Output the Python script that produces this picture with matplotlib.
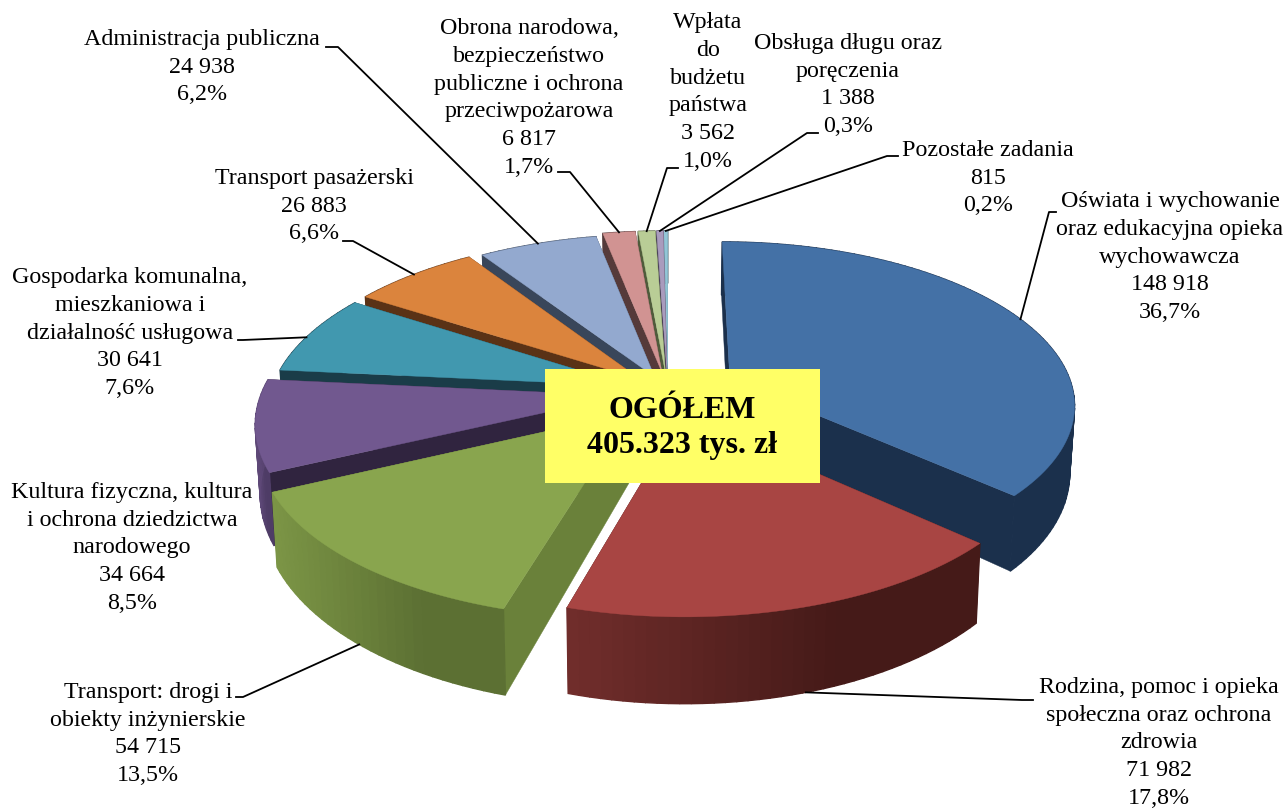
import numpy as np
import matplotlib
matplotlib.use("Agg")
import matplotlib.pyplot as plt
from matplotlib.patches import Polygon, Rectangle

categories = ["Oświata i wychowanie\noraz edukacyjna opieka\nwychowawcza",
              "Rodzina, pomoc i opieka\nspołeczna oraz ochrona\nzdrowia",
              "Transport: drogi i\nobiekty inżynierskie",
              "Kultura fizyczna, kultura\ni ochrona dziedzictwa\nnarodowego",
              "Gospodarka komunalna,\nmieszkaniowa i\ndziałalność usługowa",
              "Transport pasażerski",
              "Administracja publiczna",
              "Obrona narodowa,\nbezpieczeństwo\npubliczne i ochrona\nprzeciwpożarowa",
              "Wpłata\ndo\nbudżetu\npaństwa",
              "Obsługa długu oraz\nporęczenia",
              "Pozostałe zadania"]
values = [148918, 71982, 54715, 34664, 30641, 26883, 24938, 6817, 3562, 1388, 815]
value_labels = ["148 918", "71 982", "54 715", "34 664", "30 641", "26 883",
                "24 938", "6 817", "3 562", "1 388", "815"]
percent_labels = ["36,7%", "17,8%", "13,5%", "8,5%", "7,6%", "6,6%",
                  "6,2%", "1,7%", "1,0%", "0,3%", "0,2%"]

top_colors = ["#4471A6", "#A84543", "#89A54E", "#71588F", "#4198AF", "#DB843D",
              "#93A9CF", "#D19392", "#B9CD96", "#A99BBD", "#92C5D6"]
wall_left = ["#1B304C", "#722E2C", "#7C9646", "#5E4878", "#1A3C48", "#5A3216",
             "#39465A", "#553A3A", "#4F5B3B", "#4A4258", "#3F5A64"]
wall_right = ["#1B304C", "#451A18", "#5C7033", "#4E3C66", "#1A3C48", "#5A3216",
              "#39465A", "#553A3A", "#4F5B3B", "#4A4258", "#3F5A64"]
face_colors = ["#1B304C", "#4A1C1A", "#6A813A", "#30243F", "#1A3C48", "#5A3216",
               "#39465A", "#553A3A", "#4F5B3B", "#4A4258", "#3F5A64"]
explode = [0.19, 0.14, 0.16, 0.13, 0.11, 0.11, 0.10, 0.12, 0.12, 0.12, 0.12]
radius = [0.955, 0.98, 1, 1, 1, 1, 1, 1, 1, 1, 1]

cx, cy = 668, 392
A, B, H, k = 360, 168, 66, 0.15


def project(th, r, e_mid, e, z=0.0):
    x_w = r * np.sin(th) + e * np.sin(e_mid)
    y_w = r * np.cos(th) + e * np.cos(e_mid)
    s = 1 / (1 + k * y_w)
    x = A * x_w * s
    y = -B * y_w * s + z * H * s ** 1.5
    return cx + x * (1 - 0.012 * z), cy + y


def mix(c1, c2, t):
    a = np.array(matplotlib.colors.to_rgb(c1))
    b = np.array(matplotlib.colors.to_rgb(c2))
    return tuple(a + (b - a) * t)


fig = plt.figure(figsize=(12.85, 8.09), dpi=100)
ax = fig.add_axes([0, 0, 1, 1])
ax.set_xlim(0, 1285)
ax.set_ylim(809, 0)
ax.axis("off")

fractions = np.array(values) / sum(values)
starts = 2 * np.pi * np.concatenate([[0], np.cumsum(fractions)[:-1]])
ends = starts + 2 * np.pi * fractions
mids = (starts + ends) / 2

order = np.argsort(-np.cos(mids))
for zo, i in enumerate(order):
    th = np.linspace(starts[i], ends[i], max(int(fractions[i] * 240), 4))
    e, m, r = explode[i], mids[i], radius[i]
    # radial faces
    for edge in (starts[i], ends[i]):
        xa, ya = project(0.0, 0.0, m, e)
        xb, yb = project(edge, r, m, e)
        xc, yc = project(edge, r, m, e, 1.0)
        xd, yd = project(0.0, 0.0, m, e, 1.0)
        ax.add_patch(Polygon([(xa, ya), (xb, yb), (xc, yc), (xd, yd)],
                             fc=face_colors[i], ec=face_colors[i], lw=0.3, zorder=zo * 3))
    # outer wall, shaded across the arc
    xt, yt = project(th, r, m, e)
    xb, yb = project(th, r, m, e, 1.0)
    for j in range(len(th) - 1):
        t = (xt[j] - xt.min()) / max(xt.max() - xt.min(), 1)
        col = mix(wall_left[i], wall_right[i], min(1.0, t * 1.5))
        ax.add_patch(Polygon([(xt[j], yt[j]), (xt[j + 1], yt[j + 1]),
                              (xb[j + 1], yb[j + 1]), (xb[j], yb[j])],
                             fc=col, ec=col, lw=1.0, zorder=zo * 3 + 1))
    # top
    xa, ya = project(0.0, 0.0, m, e)
    pts = [(xa, ya)] + list(zip(xt, yt))
    ax.add_patch(Polygon(pts, fc=top_colors[i], ec=top_colors[i], lw=0.3, zorder=zo * 3 + 2))

ax.add_patch(Rectangle((545, 369), 275, 114, fc="#FFFF66", ec="none", zorder=100))
ax.text(682, 428, "OGÓŁEM\n405.323 tys. zł", ha="center", va="center", fontsize=23,
        family="Liberation Serif", weight="bold", linespacing=1.3, zorder=101)

label_pos = [(1170, 257), (1159, 743), (148, 734), (132, 548), (130, 333), (314, 206),
             (202, 67), (529, 98), (708, 92), (848, 85), (988, 178)]
for i in range(len(values)):
    ax.text(label_pos[i][0], label_pos[i][1],
            categories[i] + "\n" + value_labels[i] + "\n" + percent_labels[i],
            ha="center", va="center", fontsize=17.3, family="Liberation Serif",
            linespacing=1.43, zorder=110)

# leader lines: (slice, position along arc, height, elbow, end at label)
leaders = [(0, 0.50, 0, (1049, 212), (1056, 212)),
           (1, 0.48, 1, (1022, 700), (1033, 700)),
           (2, 0.50, 1, (243, 697), (236, 697)),
           (4, 0.45, 0, (243, 340), (238, 340)),
           (5, 0.50, 0, (353, 241), (343, 241)),
           (6, 0.50, 0, (338, 47), (326, 47)),
           (7, 0.50, 0, (570, 172), (558, 172)),
           (8, 0.50, 0, (667, 168), (678, 168)),
           (9, 0.50, 0, (807, 133), (818, 133)),
           (10, 0.50, 0, (887, 156), (898, 156))]
for i, f, z, elbow, end in leaders:
    xp, yp = project(starts[i] + f * (ends[i] - starts[i]), radius[i], mids[i], explode[i], z)
    ax.plot([xp, elbow[0], end[0]], [yp, elbow[1], end[1]], color="black", lw=1.3, zorder=90)

fig.savefig("out.png", dpi=100)
